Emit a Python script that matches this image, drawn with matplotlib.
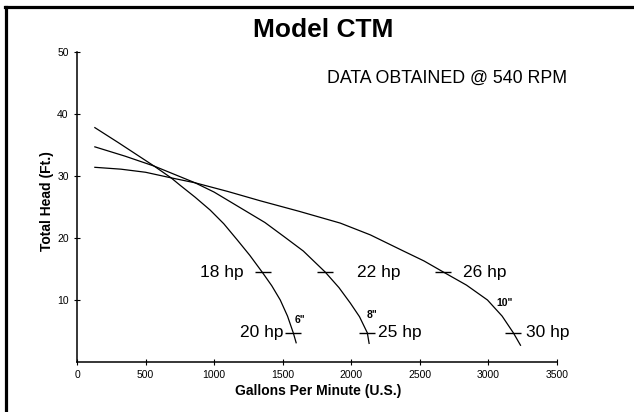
#!/usr/bin/env python3
"""pump performance curves - Model CTM"""

### imports
import matplotlib
matplotlib.use("Agg")
import matplotlib.pyplot as plt
from matplotlib.lines import Line2D

### data
gpm_6 = [130, 300, 562, 686, 752, 860, 971, 1070, 1168, 1260, 1350, 1420, 1482, 1535, 1577, 1598]
head_6 = [37.8, 35.4, 31.6, 29.7, 28.5, 26.6, 24.5, 22.3, 19.7, 17.2, 14.5, 12.3, 10.0, 7.4, 4.7, 3.1]

gpm_8 = [130, 350, 562, 861, 1000, 1219, 1370, 1511, 1650, 1810, 1910, 1993, 2060, 2117, 2130]
head_8 = [34.7, 33.2, 31.6, 28.9, 27.4, 24.5, 22.5, 20.2, 17.9, 14.5, 12.0, 9.5, 7.3, 4.7, 3.0]

gpm_10 = [130, 320, 500, 686, 861, 1100, 1336, 1620, 1920, 2139, 2380, 2530, 2672,
          2840, 2993, 3100, 3182, 3234]
head_10 = [31.4, 31.1, 30.6, 29.7, 28.9, 27.5, 26.0, 24.3, 22.4, 20.5, 17.9, 16.3, 14.5,
           12.4, 10.0, 7.4, 4.7, 2.7]

hp_labels = ["18 hp", "20 hp", "22 hp", "25 hp", "26 hp", "30 hp"]
hp_gpm = [1357, 1577, 1810, 2117, 2671, 3182]
hp_head = [14.5, 4.7, 14.5, 4.7, 14.5, 4.7]

size_labels = ['6"', '8"', '10"']
size_gpm = [1590, 2110, 3058]
size_head = [6.8, 7.6, 9.5]

xticks = [0, 500, 1000, 1500, 2000, 2500, 3000, 3500]
yticks = [10, 20, 30, 40, 50]

plt.rcParams["font.family"] = ["Liberation Sans", "DejaVu Sans"]

fig = plt.figure(figsize=(6.34, 4.12), dpi=100)
ax = fig.add_axes([0.1215, 0.1214, 0.757, 0.7524])

# pump curves
for g, h in [(gpm_6, head_6), (gpm_8, head_8), (gpm_10, head_10)]:
    ax.plot(g, h, "k-", lw=0.9)

# horsepower marks on the curves, labels left of the two smaller ones
ax.plot(hp_gpm, hp_head, "k_", ms=11, mew=1.0, ls="none")
offsets = [-145, -73, 234, 80, 147, 95]
for lab, g, h, off in zip(hp_labels, hp_gpm, hp_head, offsets):
    ax.text(g + off, h, lab, ha="right" if off < 0 else "left", va="center",
            fontsize=12.5)

for lab, g, h in zip(size_labels, size_gpm, size_head):
    ax.text(g, h, lab, ha="left", va="center", fontsize=7.5, fontweight="bold")

ax.set_xlim(0, 3500)
ax.set_ylim(0, 50)
ax.set_xticks(xticks)
ax.set_yticks(yticks)
ax.spines["top"].set_visible(False)
ax.spines["right"].set_visible(False)
ax.spines["left"].set_linewidth(1.1)
ax.spines["bottom"].set_linewidth(1.1)
ax.tick_params(direction="inout", length=4, width=0.8, labelsize=7.5, pad=4)

# texts
fig.text(0.509, 0.927, "Model CTM", ha="center", va="center", fontsize=19, fontweight="bold")
fig.text(0.516, 0.811, "DATA OBTAINED @ 540 RPM", ha="left", va="center", fontsize=12.8)
fig.text(0.074, 0.512, "Total Head (Ft.)", rotation=90, ha="center", va="center",
         fontsize=10, fontweight="bold")
fig.text(0.5016, 0.051, "Gallons Per Minute (U.S.)", ha="center", va="center",
         fontsize=10, fontweight="bold")

# frame lines (top and left only)
fig.add_artist(Line2D([0.008, 1.0], [0.983, 0.983], color="k", lw=2.3,
                      transform=fig.transFigure))
fig.add_artist(Line2D([0.0095, 0.0095], [0.0, 0.983], color="k", lw=2.3,
                      transform=fig.transFigure))

fig.savefig("out.png", dpi=100)
